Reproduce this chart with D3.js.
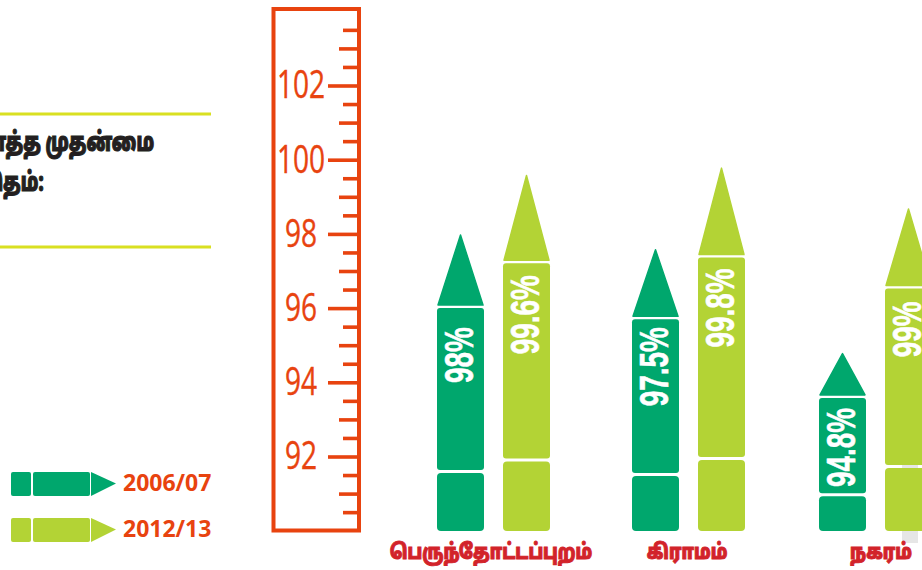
<!DOCTYPE html>
<html><head><meta charset="utf-8">
<style>html,body{margin:0;background:#fff;overflow:hidden}svg{display:block}</style>
<script src="https://cdn.jsdelivr.net/npm/d3@7/dist/d3.min.js"></script></head>
<body><svg id="c" width="922" height="570"></svg>
<script>
const categories = ["பெருந்தோட்டப்புறம்", "கிராமம்", "நகரம்"];
const years = ["2006/07", "2012/13"];
const series2006 = [98, 97.6, 94.8];
const series2013 = [99.6, 99.8, 98.7];
const labels2006 = ["98%", "97.5%", "94.8%"];
const labels2013 = ["99.6%", "99.8%", "99%"];
const titleLines = ["ஒட்டுமொத்த முதன்மை", "சேர்க்கை விகிதம்:"];
const tickLabels = [92, 94, 96, 98, 100, 102];
const tickValues = d3.range(90.5, 104, 0.5);

const ORANGE = "#e8430f", GREEN = "#00a76d", LIME = "#b3d335", RED = "#d2232a";
const svg = d3.select("#c");
const y = d3.scaleLinear().domain([92, 102]).range([456.5, 85.5]);
const baseY = 531;
const x0 = d3.scaleOrdinal().domain(categories).range([437, 632, 819]);
const x1 = d3.scaleOrdinal().domain(years).range([0, 66]);
const color = d3.scaleOrdinal().domain(years).range([GREEN, LIME]);
const barW = 47, coneShare = 0.243, tailShare = 0.195, gap = 3;
const TAMIL = "'Noto Sans Tamil','Noto Sans','Lohit Tamil',sans-serif";

// faint grey block behind the last bullet
svg.append("rect").attr("x", 902).attr("y", 440).attr("width", 16).attr("height", 103).attr("fill", "#e6e6e6");

// title block
[114, 247].forEach(v => svg.append("rect").attr("x", 0).attr("y", v - 1.5).attr("width", 211).attr("height", 3).attr("fill", "#d9e021"));
const titleEnd = [154, 44], titleY = [151, 191];
svg.selectAll(".title").data(titleLines).join("text").attr("class", "title")
  .attr("transform", (d, i) => `translate(${titleEnd[i]},${titleY[i]}) scale(0.7,1)`).attr("text-anchor", "end")
  .attr("font-family", TAMIL).attr("font-weight", 900)
  .attr("font-size", 26).attr("fill", "#231f20").attr("stroke", "#231f20").attr("stroke-width", 1.1).text(d => d);

// ruler
svg.append("rect").attr("x", 273.5).attr("y", 9).attr("width", 85.5).attr("height", 521.5)
  .attr("fill", "none").attr("stroke", ORANGE).attr("stroke-width", 4);
const tickLen = v => v % 2 === 0 ? 31 : (v % 1 === 0 ? 20 : 16);
const axis = d3.axisLeft(y).tickValues(tickValues).tickSize(0).tickFormat(v => tickLabels.includes(v) ? v : "");
const ag = svg.append("g").attr("transform", "translate(359,0)").call(axis);
ag.select(".domain").remove();
ag.selectAll(".tick line").attr("x2", d => -tickLen(d)).attr("stroke", ORANGE).attr("stroke-width", 3.6);
ag.selectAll(".tick text").attr("x", 0).attr("dy", "0.35em").attr("text-anchor", "middle")
  .attr("transform", "translate(-58,-1) scale(0.74,1)")
  .attr("font-family", "'Open Sans',sans-serif").attr("font-size", 38).attr("fill", ORANGE)
  .attr("stroke", ORANGE).attr("stroke-width", 0.4);

// bullets
function bullet(g, total, fill) {
  // total: pixel height from tip to base; segments are fixed shares of it
  const cone = total * coneShare, tail = total * tailShare;
  const tip = baseY - total;
  g.append("path").attr("fill", fill).attr("stroke", fill).attr("stroke-width", 1.5).attr("stroke-linejoin", "round")
    .attr("d", d3.line()([[barW / 2, tip + 1], [barW - 1, tip + cone - 1], [1, tip + cone - 1]]) + "Z");
  g.append("rect").attr("x", 0).attr("y", tip + cone + 2).attr("width", barW)
    .attr("height", total - cone - tail - 2 - gap).attr("rx", 3).attr("fill", fill);
  g.append("rect").attr("x", 0).attr("y", baseY - tail).attr("width", barW)
    .attr("height", tail).attr("rx", 4).attr("fill", fill);
  return tip + cone + 2;
}
function drawSeries(values, labels, year, insets) {
  values.forEach((v, i) => {
    const g = svg.append("g").attr("transform", `translate(${x0(categories[i]) + x1(year)},0)`);
    const top = bullet(g, baseY - y(v), color(year));
    g.append("text").attr("transform", `translate(${barW / 2 + 12.5},${top + insets[i]}) rotate(-90) scale(0.68,1)`)
      .attr("text-anchor", "end").attr("font-family", "'Liberation Sans',sans-serif").attr("font-weight", 700)
      .attr("font-size", 41).attr("fill", "#fff").attr("stroke", "#fff").attr("stroke-width", 0.6).text(labels[i]);
  });
}
drawSeries(series2006, labels2006, years[0], [19, 8, 10]);
drawSeries(series2013, labels2013, years[1], [12, 11, 13]);

// category labels
const catCentre = [491, 687, 881];
svg.selectAll(".cat").data(categories).join("text").attr("class", "cat")
  .attr("transform", (d, i) => `translate(${catCentre[i]},559) scale(0.82,1)`).attr("text-anchor", "middle")
  .attr("font-family", TAMIL).attr("font-weight", 900)
  .attr("font-size", 21).attr("fill", RED).attr("stroke", RED).attr("stroke-width", 0.9).text(d => d);

// legend
const legY = [472, 518];
years.forEach((yr, i) => {
  const g = svg.append("g").attr("transform", `translate(0,${legY[i]})`), c = color(yr);
  g.append("rect").attr("x", 11).attr("width", 20).attr("height", 24).attr("rx", 2).attr("fill", c);
  g.append("rect").attr("x", 33).attr("width", 57).attr("height", 24).attr("rx", 2).attr("fill", c);
  g.append("path").attr("d", d3.line()([[91, 0], [116, 11.5], [91, 24]]) + "Z").attr("fill", c);
  g.append("text").attr("x", 123).attr("y", 19).attr("font-family", "'Open Sans',sans-serif").attr("font-weight", 700)
    .attr("font-size", 23).attr("fill", ORANGE).text(yr);
});
</script></body></html>
